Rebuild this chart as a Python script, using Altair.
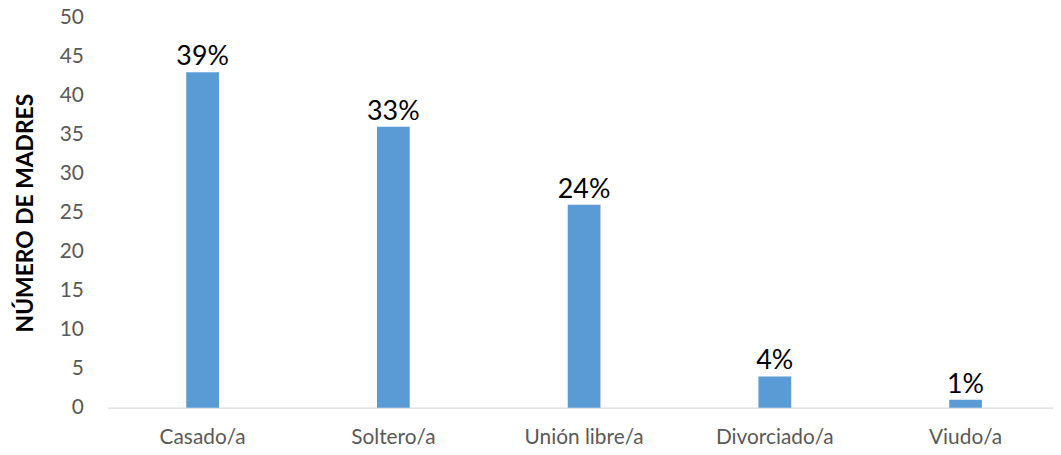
import altair as alt
import pandas as pd

categories = ["Casado/a", "Soltero/a", "Unión libre/a", "Divorciado/a", "Viudo/a"]
counts = [43, 36, 26, 4, 1]
percent_labels = ["39%", "33%", "24%", "4%", "1%"]
y_ticks = [0, 5, 10, 15, 20, 25, 30, 35, 40, 45, 50]

df = pd.DataFrame({"cat": categories, "n": counts, "pct": percent_labels})

FONT = "Lato"

x = alt.X("cat:N", sort=categories, title=None,
          scale=alt.Scale(paddingInner=0, paddingOuter=0),
          axis=alt.Axis(labelAngle=0, labelFontSize=21, labelColor="#595959",
                        labelFont=FONT, ticks=False, domainColor="#D9D9D9",
                        domainWidth=1.5, labelPadding=19, labelOverlap=False))
y = alt.Y("n:Q", title="NÚMERO DE MADRES",
          scale=alt.Scale(domain=[0, 50], nice=False),
          axis=alt.Axis(values=y_ticks, grid=False, domain=False,
                        ticks=False, labelFontSize=21, labelColor="#595959",
                        labelFont=FONT, labelPadding=24, labelOverlap=False,
                        labelBound=False, labelFlush=False,
                        titleFont=FONT, titleFontSize=23, titleFontWeight="bold",
                        titleColor="#000000", titlePadding=22))

base = alt.Chart(df).encode(x=x, y=y)
bars = base.mark_bar(size=33, color="#5B9BD5")
text = base.mark_text(baseline="alphabetic", dy=-7, fontSize=27, font=FONT,
                      color="#000000").encode(text="pct:N")

chart = (bars + text).properties(
    width=961, height=393,
    background="white",
    autosize=alt.AutoSizeParams(type="none"),
    padding={"left": 100, "top": 8, "right": -8, "bottom": 40},
).configure_view(stroke=None)

chart.save("out.html", embed_options={"renderer": "svg", "actions": False})
